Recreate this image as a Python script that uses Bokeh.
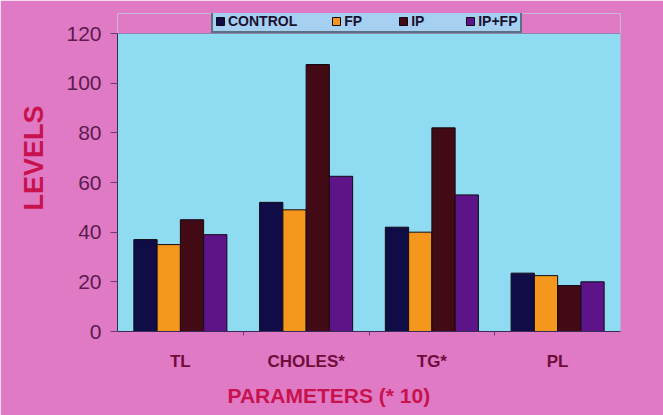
import numpy as np
from bokeh.plotting import figure
from bokeh.models import (Range1d, FixedTicker, Legend, LegendItem, Title, BoxAnnotation)
from bokeh.embed import file_html
from bokeh.resources import INLINE

categories = ["TL", "CHOLES*", "TG*", "PL"]
series = ["CONTROL", "FP", "IP", "IP+FP"]
control = [37, 52, 42, 23.5]
fp = [35, 49, 40, 22.5]
ip = [45, 107.5, 82, 18.5]
ip_fp = [39, 62.5, 55, 20]
y_ticks = [0, 20, 40, 60, 80, 100, 120]
colors = ["#100c46", "#f5971c", "#420a14", "#5c1488"]

PINK = "#e07ac4"
Y_TOP = 120
PLOT_H = 298      # pixels from 0 to 120
EXTRA_H = 20      # strip above the plot area holding the legend
y_max = Y_TOP * (PLOT_H + EXTRA_H) / PLOT_H

p = figure(width=663, height=415, output_backend="svg", toolbar_location=None,
           x_range=Range1d(0, 4), y_range=Range1d(0, y_max),
           min_border_left=117, min_border_right=43, min_border_top=13, min_border_bottom=84)
p.background_fill_color = "#8fdcf2"
p.border_fill_color = PINK
p.outline_line_color = None
p.xgrid.visible = False
p.ygrid.visible = False

# strip above plot area -> pink; plot-area edge
p.add_layout(BoxAnnotation(bottom=Y_TOP, fill_color=PINK, fill_alpha=1, line_alpha=0, level="underlay"))
p.add_layout(BoxAnnotation(bottom=0, top=Y_TOP, fill_alpha=0, line_color="#3a2a5a",
                           line_width=1, level="underlay"))

idx = np.arange(len(categories)) + 0.5
w = 0.185
vals = [control, fp, ip, ip_fp]
renderers = []
for k, (name, v) in enumerate(zip(series, vals)):
    r = p.vbar(x=idx + (k - 1.5) * w, top=v, width=w, bottom=0,
               fill_color=colors[k], line_color="#120812", line_width=1)
    renderers.append(r)

# y axis
ya = p.yaxis[0]
ya.ticker = FixedTicker(ticks=y_ticks)
ya.bounds = (0, Y_TOP)
ya.major_label_text_font = "Liberation Sans"
ya.major_label_text_font_size = "21px"
ya.major_label_text_color = "#5c1a50"
ya.major_tick_out = 7
ya.major_tick_in = 0
ya.minor_tick_out = 0
ya.minor_tick_in = 0
ya.major_tick_line_color = "#6a3a70"
ya.axis_line_color = "#3a2a5a"
ya.major_label_standoff = 9

# x axis
xa = p.xaxis[0]
xa.ticker = FixedTicker(ticks=list(idx), minor_ticks=[1, 2, 3])
xa.major_label_overrides = {float(t): c for t, c in zip(idx, categories)}
xa.major_label_text_font = "Liberation Sans"
xa.major_label_text_font_style = "bold"
xa.major_label_text_font_size = "17px"
xa.major_label_text_color = "#6e0c3c"
xa.major_tick_out = 0
xa.major_tick_in = 0
xa.minor_tick_out = 4
xa.minor_tick_in = 0
xa.minor_tick_line_color = "#6a3a70"
xa.axis_line_color = "#3a2a5a"
xa.major_label_standoff = 16

# axis titles
p.add_layout(Title(text="LEVELS", align="left", offset=121, standoff=30,
                   text_font="Liberation Sans", text_font_style="bold",
                   text_font_size="27px", text_color="#c8124e"), "left")
p.add_layout(Title(text="PARAMETERS (* 10)", align="left", offset=110, standoff=16,
                   text_font="Liberation Sans", text_font_style="bold",
                   text_font_size="21px", text_color="#c8124e"), "below")

legend = Legend(items=[LegendItem(label=s, renderers=[r]) for s, r in zip(series, renderers)],
                orientation="horizontal", location=(94, 298),
                background_fill_color="#a6d0f2", background_fill_alpha=1,
                border_line_color="#101010", border_line_width=2,
                label_text_font="Liberation Sans", label_text_font_style="bold",
                label_text_font_size="14px", label_text_color="#1a1030",
                glyph_width=10, glyph_height=10, label_standoff=3,
                spacing=34, padding=2, margin=0)
p.add_layout(legend, "center")

open("out.html", "w").write(file_html(p, INLINE))
